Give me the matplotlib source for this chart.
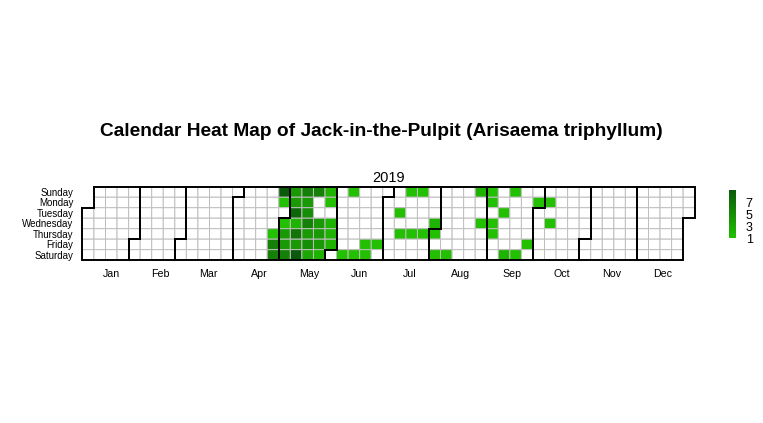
import numpy as np
import pandas as pd
import matplotlib
matplotlib.use("Agg")
import matplotlib.pyplot as plt
from matplotlib.colors import LinearSegmentedColormap

plt.rcParams['font.family'] = ['Liberation Sans', 'DejaVu Sans']

obs_dates = ["2019-04-25", "2019-04-26", "2019-04-27", "2019-04-28", "2019-04-29",
             "2019-05-01", "2019-05-02", "2019-05-03", "2019-05-04", "2019-05-05",
             "2019-05-06", "2019-05-07", "2019-05-08", "2019-05-09", "2019-05-10",
             "2019-05-11", "2019-05-12", "2019-05-13", "2019-05-14", "2019-05-15",
             "2019-05-16", "2019-05-17", "2019-05-18", "2019-05-19", "2019-05-22",
             "2019-05-23", "2019-05-24", "2019-05-25", "2019-05-26", "2019-05-27",
             "2019-05-29", "2019-05-30", "2019-05-31",
             "2019-06-08", "2019-06-09", "2019-06-15", "2019-06-21", "2019-06-22",
             "2019-06-28",
             "2019-07-09", "2019-07-11", "2019-07-14", "2019-07-18", "2019-07-21",
             "2019-07-25", "2019-07-31",
             "2019-08-01", "2019-08-03", "2019-08-10", "2019-08-25", "2019-08-28",
             "2019-09-01", "2019-09-02", "2019-09-04", "2019-09-05", "2019-09-10",
             "2019-09-14", "2019-09-15", "2019-09-21", "2019-09-27", "2019-09-30",
             "2019-10-07", "2019-10-09"]
obs_counts = [1, 6, 6, 9, 1,
              1, 4, 4, 6, 4,
              4, 8, 2, 7, 4,
              9, 6, 4, 5, 6,
              4, 5, 3, 6, 4,
              4, 4, 2, 2, 1,
              2, 2, 2,
              1, 1, 1, 1, 1,
              1,
              1, 1, 1, 1, 1,
              1, 2,
              1, 1, 1, 2, 1,
              1, 1, 1, 1, 1,
              2, 1, 1, 1, 1,
              1, 1]

weekday_labels = ["Sunday", "Monday", "Tuesday", "Wednesday", "Thursday", "Friday", "Saturday"]
month_labels = ["Jan", "Feb", "Mar", "Apr", "May", "Jun",
                "Jul", "Aug", "Sep", "Oct", "Nov", "Dec"]

days = pd.date_range("2019-01-01", "2019-12-31")
counts = pd.Series(0, index=days)
counts[pd.to_datetime(obs_dates)] = obs_counts

dow = np.asarray((days.dayofweek + 1) % 7)      # Sunday = 0
week = np.asarray((days.dayofyear - 1 + dow[0]) // 7)
nweeks = week.max() + 1

grid = np.full((7, nweeks), np.nan)
grid[dow, week] = counts.values
grid = np.ma.masked_invalid(grid)

cmap = LinearSegmentedColormap.from_list("jack", ["#22C000", "#0B5A0B"])
cmap.set_under("white")

fig = plt.figure(figsize=(7.63, 4.23), dpi=100)
ax = fig.add_axes([0.108, 0.385, 0.8025, 0.1735])

pc = ax.pcolor(np.arange(nweeks + 1), np.arange(8), grid, cmap=cmap, vmin=1, vmax=9,
               edgecolors="#BEBEBE", linewidth=0.7)

# month outlines
for m in range(1, 13):
    idx = np.where(days.month == m)[0]
    w0, d0 = week[idx[0]], dow[idx[0]]
    w1, d1 = week[idx[-1]], dow[idx[-1]]
    xs = [w0, w0 + 1, w0 + 1, w1 + 1, w1 + 1, w1, w1, w0, w0]
    ys = [d0, d0, 0, 0, d1 + 1, d1 + 1, 7, 7, d0]
    ax.plot(xs, ys, color="black", lw=1.4, solid_joinstyle="miter", clip_on=False)

ax.set_xlim(0, nweeks)
ax.set_ylim(7, 0)
centers = [week[days.month == m].mean() + 0.5 for m in range(1, 13)]
ax.set_xticks(centers, month_labels)
ax.set_yticks(np.arange(7) + 0.5, weekday_labels)
ax.tick_params(axis="x", length=0, labelsize=7.7, pad=6.5)
ax.tick_params(axis="y", length=0, labelsize=7, pad=6.5)
for s in ax.spines.values():
    s.set_visible(False)

fig.text(0.5, 1 - 135.7 / 423, "Calendar Heat Map of Jack-in-the-Pulpit (Arisaema triphyllum)",
         ha="center", va="baseline", fontsize=13.8, fontweight="bold")
fig.text(389 / 763, 1 - 181.7 / 423, "2019", ha="center", va="baseline", fontsize=10.5)

cax = fig.add_axes([729 / 763, 1 - 238 / 423, 7 / 763, 48 / 423])
cb = fig.colorbar(pc, cax=cax, ticks=[1, 3, 5, 7])
cb.outline.set_visible(False)
cax.tick_params(length=0, labelsize=9, pad=7)

fig.savefig("out.png", dpi=100)
